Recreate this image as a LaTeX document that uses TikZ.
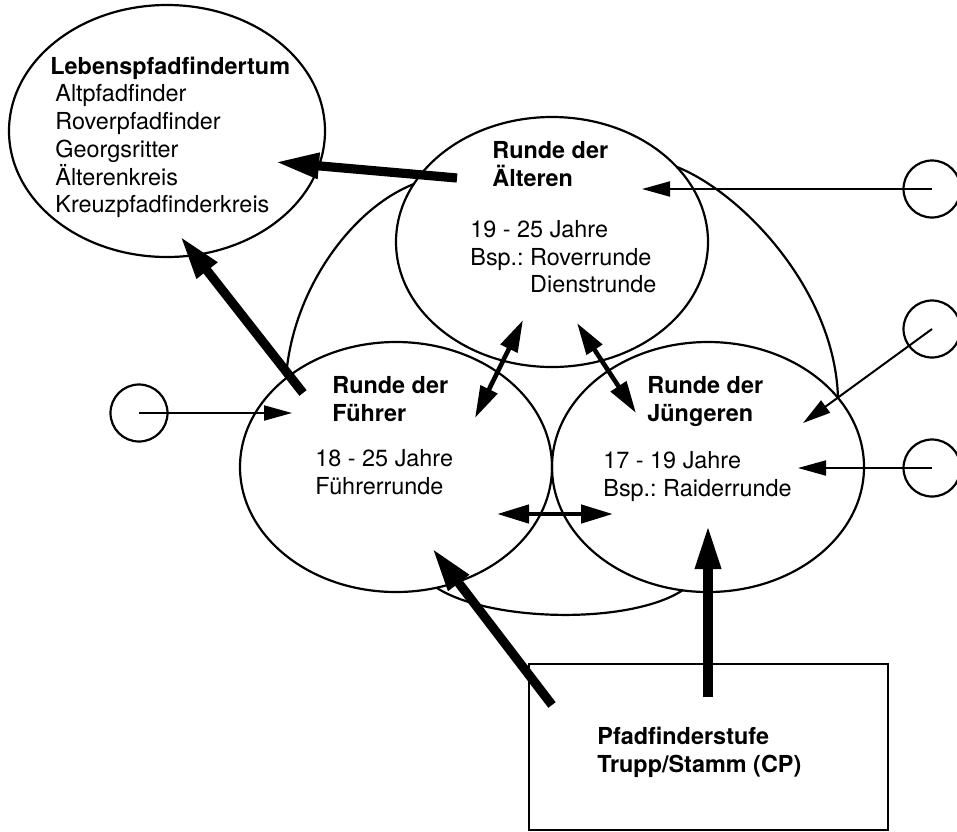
\documentclass[tikz,border=0pt]{standalone}
\usepackage{fontspec}
\setmainfont{TeX Gyre Heros}
\usetikzlibrary{arrows.meta,shapes.geometric}
\frenchspacing
\begin{document}
\begin{tikzpicture}[x=0.5pt,y=-0.5pt,
  ring/.style={draw, ellipse, line width=1.1pt, minimum width=156pt, minimum height=125pt, inner sep=0pt},
  smallring/.style={draw, circle, line width=1.1pt, minimum size=28.5pt, inner sep=0pt},
  txt/.style={anchor=north west, inner sep=0pt, align=left, font=\fontsize{11.7}{13.85}\selectfont},
  txtb/.style={txt, font=\fontsize{11.7}{13.85}\selectfont\bfseries},
  thinarrow/.style={line width=1pt, -{Triangle[length=14pt,width=7.5pt]}},
  duoarrow/.style={line width=2.3pt, {Triangle[length=16pt,width=9pt]}-{Triangle[length=16pt,width=9pt]}},
  thickarrow/.style={line width=4.6pt, -{Triangle[length=22pt,width=12pt]}},
  outline/.style={line width=1.1pt},
  boxstyle/.style={draw, line width=1.1pt, minimum width=179.5pt, minimum height=83pt, inner sep=0pt},
]
\useasboundingbox (0,0) rectangle (957,831);

% ellipses
\node[ring, minimum width=158pt, minimum height=126pt] (leb) at (167,131) {};
\node[ring] (ael) at (552,242) {};
\node[ring] (fue) at (396,467) {};
\node[ring] (jue) at (708,467) {};

% small circles
\node[smallring] (c1) at (139,413) {};
\node[smallring] (c2) at (932,189) {};
\node[smallring] (c3) at (932,329) {};
\node[smallring] (c4) at (932,468) {};

% box
\node[boxstyle] (box) at (708.5,747) {};

% outer arcs between the ellipses
\coordinate (la) at (286,378);
\coordinate (lb) at (414,184);
\coordinate (ra) at (677,167);
\coordinate (rb) at (838,398);
\coordinate (ba) at (437,588);
\coordinate (bb) at (683,590);
\draw[outline] (la) .. controls (292,290) and (352,208) .. (lb);
\draw[outline] (ra) .. controls (742,193) and (835,290) .. (rb);
\draw[outline] (ba) .. controls (490,622) and (630,625) .. (bb);

% texts
\node[txtb] (tleb) at (50,57) {Lebenspfadfindertum\\[-0.3pt]
  \mdseries\hspace*{2.5pt}Altpfadfinder\\
  \mdseries\hspace*{2.5pt}Roverpfadfinder\\
  \mdseries\hspace*{2.5pt}Georgsritter\\
  \mdseries\hspace*{2.5pt}Älterenkreis\\
  \mdseries\hspace*{2.5pt}Kreuzpfadfinderkreis};
\node[txtb] (taelt) at (492,141) {Runde der\\Älteren};
\node[txt] (taeld) at (470,220) {19 - 25 Jahre\\Bsp.: Roverrunde\\\phantom{Bsp.: }Dienstrunde};
\node[txtb] (tfut) at (332,376) {Runde der\\Führer};
\node[txt] (tfud) at (315,449) {18 - 25 Jahre\\Führerrunde};
\node[txtb] (tjut) at (647,376) {Runde der\\Jüngeren};
\node[txt] (tjud) at (603,451) {17 - 19 Jahre\\Bsp.: Raiderrunde};
\node[txtb] (tpf) at (597,727) {Pfadfinderstufe\\Trupp/Stamm (CP)};

% arrow end points
\coordinate (v1) at (708,697);  \coordinate (v2) at (708,525);
\coordinate (d1) at (552,705);  \coordinate (d2) at (432,548);
\coordinate (f1) at (303,393);  \coordinate (f2) at (180,236);
\coordinate (e1) at (457,178);  \coordinate (e2) at (275,162);
\coordinate (p1) at (523,320);  \coordinate (p2) at (475,418);
\coordinate (q1) at (577,323);  \coordinate (q2) at (636,413);
\coordinate (h1) at (497,514);  \coordinate (h2) at (613,514);
\coordinate (t1) at (292,413);
\coordinate (t2) at (642,189);
\coordinate (t3) at (803,423);
\coordinate (t4) at (798,468);

% thick arrows
\draw[thickarrow] (v1) -- (v2);
\draw[thickarrow] (d1) -- (d2);
\draw[thickarrow] (f1) -- (f2);
\draw[thickarrow] (e1) -- (e2);

% double arrows
\draw[duoarrow] (p1) -- (p2);
\draw[duoarrow] (q1) -- (q2);
\draw[duoarrow] (h1) -- (h2);

% thin arrows from small circles
\draw[thinarrow] (c1.center) -- (t1);
\draw[thinarrow] (c2.center) -- (t2);
\draw[thinarrow] (c3.center) -- (t3);
\draw[thinarrow] (c4.center) -- (t4);
\end{tikzpicture}
\end{document}
